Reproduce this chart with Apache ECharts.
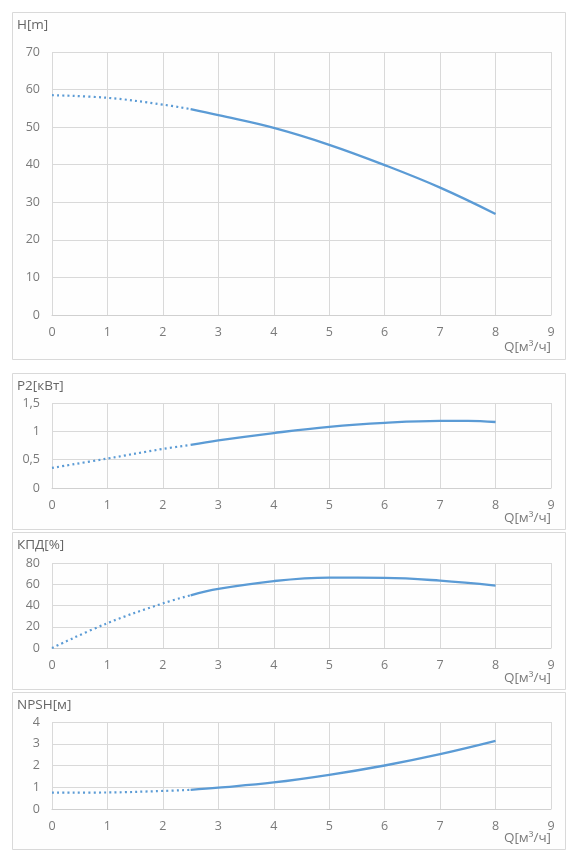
<!DOCTYPE html>
<html>
<head>
<meta charset="utf-8">
<script src="https://cdn.jsdelivr.net/npm/echarts@6/dist/echarts.min.js"></script>
<style>
html,body{margin:0;padding:0;background:#fff;}
#c{width:572px;height:861px;}
</style>
</head>
<body>
<div id="c"></div>
<script>
// Flow axis ticks
const qTicks = [0,1,2,3,4,5,6,7,8,9];
// H curve
const hDotQ = [0, 1, 2, 2.5];
const hDot  = [58.5, 57.8, 56.0, 54.8];
const hQ    = [2.5, 3, 4, 5, 6, 7, 8];
const hVal  = [54.8, 53.2, 49.8, 45.3, 39.9, 33.9, 26.9];
// P2 curve
const pDotQ = [0, 1, 2, 2.5];
const pDot  = [0.355, 0.52, 0.69, 0.76];
const pQ    = [2.5, 3, 4, 5, 6, 7, 7.5, 8];
const pVal  = [0.76, 0.84, 0.97, 1.08, 1.15, 1.185, 1.185, 1.165];
// Efficiency curve
const eDotQ = [0, 1, 2, 2.5];
const eDot  = [0, 23.4, 42.0, 49.6];
const eQ    = [2.5, 3, 4, 5, 6, 7, 8];
const eVal  = [49.6, 55.6, 63.0, 66.2, 66.0, 63.4, 58.8];
// NPSH curve
const nDotQ = [0, 1, 2, 2.5];
const nDot  = [0.75, 0.76, 0.83, 0.88];
const nQ    = [2.5, 3, 4, 5, 6, 7, 8];
const nVal  = [0.88, 0.98, 1.22, 1.57, 2.0, 2.52, 3.13];

const titles = ['H[m]', 'P2[кВт]', 'КПД[%]', 'NPSH[м]'];
const xName = 'Q[м³/ч]';

const FONT = '"Open Sans", "Noto Sans", sans-serif';
const LINE = '#5b9bd5';
const GRIDC = '#d9d9d9';
const TXT = '#7a7a7a';

const grids = [
  {left:52, right:21, top:52, height:263},
  {left:52, right:21, top:403, height:85},
  {left:52, right:21, top:563, height:85},
  {left:52, right:21, top:722, height:87}
];
const yAxes = [
  {max:70, interval:10, fmt:v=>String(v)},
  {max:1.5, interval:0.5, fmt:v=>String(v).replace('.', ',')},
  {max:80, interval:20, fmt:v=>String(v)},
  {max:4, interval:1, fmt:v=>String(v)}
];
const boxes = [[12,12,553,347],[12,373,553,156],[12,532,553,157],[12,692,553,157]];
const titleY = [27, 388, 547, 707];
const qLabelY = [349, 520, 680, 840];

const pairs = (xs, ys) => xs.map((x,i)=>[x, ys[i]]);
const curves = [
  [pairs(hDotQ,hDot), pairs(hQ,hVal)],
  [pairs(pDotQ,pDot), pairs(pQ,pVal)],
  [pairs(eDotQ,eDot), pairs(eQ,eVal)],
  [pairs(nDotQ,nDot), pairs(nQ,nVal)]
];

const xAxis = grids.map((g,i)=>({
  type:'value', gridIndex:i, min:0, max:9, interval:1,
  axisLine:{show:true, lineStyle:{color:'#d0d0d0', width:1}},
  axisTick:{show:false},
  splitLine:{show:true, lineStyle:{color:GRIDC, width:1}},
  axisLabel:{color:TXT, fontFamily:FONT, fontSize:12.5, margin:11,
    formatter:v=>String(qTicks[v])}
}));
const yAxis = yAxes.map((a,i)=>({
  type:'value', gridIndex:i, min:0, max:a.max, interval:a.interval,
  axisLine:{show:false}, axisTick:{show:false},
  splitLine:{show:true, lineStyle:{color:GRIDC, width:1}},
  axisLabel:{color:TXT, fontFamily:FONT, fontSize:12.5, margin:12, formatter:a.fmt}
}));

const series = [];
curves.forEach((c,i)=>{
  series.push({type:'line', xAxisIndex:i, yAxisIndex:i, data:c[0], smooth:0.4,
    symbol:'none', lineStyle:{color:LINE, width:2.2, type:[2,3.2], cap:'butt'}, silent:true});
  series.push({type:'line', xAxisIndex:i, yAxisIndex:i, data:c[1], smooth:0.4,
    symbol:'none', lineStyle:{color:LINE, width:2.3}, silent:true});
});

const graphic = [];
boxes.forEach(b=>{
  graphic.push({type:'rect', shape:{x:b[0]+0.5, y:b[1]+0.5, width:b[2], height:b[3]},
    style:{fill:'#fefefe', stroke:'#d9d9d9', lineWidth:1}, z:-10, silent:true});
});
titles.forEach((t,i)=>{
  graphic.push({type:'text', left:17, top:titleY[i]-9,
    style:{text:t, fill:'#666', font:'13.5px '+FONT}, silent:true});
  graphic.push({type:'text', right:21, top:qLabelY[i]-9,
    style:{text:xName, fill:TXT, font:'13.5px '+FONT}, silent:true});
});

const chart = echarts.init(document.getElementById('c'), null, {renderer:'canvas'});
chart.setOption({
  animation:false,
  backgroundColor:'#fff',
  grid:grids,
  xAxis:xAxis,
  yAxis:yAxis,
  series:series,
  graphic:graphic
});
</script>
</body>
</html>
